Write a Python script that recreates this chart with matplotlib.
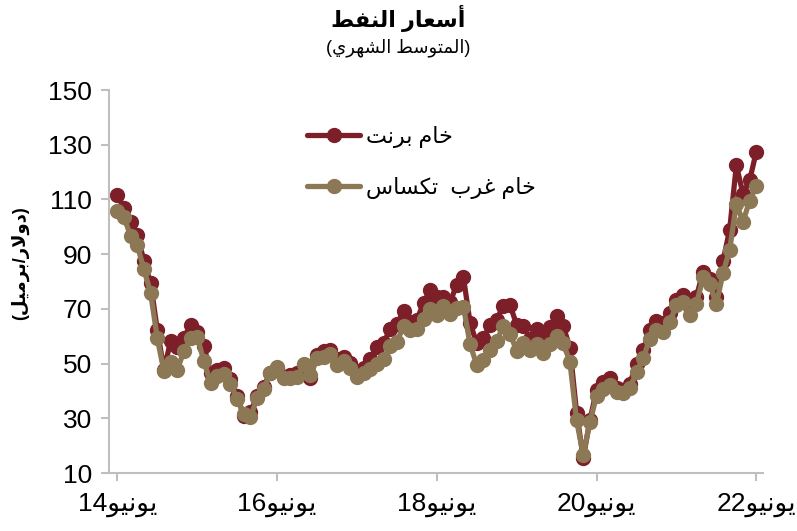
import numpy as np
import pandas as pd
import matplotlib
matplotlib.use("Agg")
import matplotlib.pyplot as plt

# ---------------- data ----------------
months = pd.period_range("2014-06", "2022-06", freq="M").strftime("%Y-%m").tolist()

brent = [111.8, 106.8, 101.6, 97.1, 87.4, 79.4, 62.3,
         47.8, 58.1, 55.9, 59.5, 64.1, 61.5, 56.6, 46.5, 47.6, 48.4, 44.3, 38.0,
         30.7, 32.2, 38.2, 41.6, 46.7, 48.3, 45.0, 45.8, 46.6, 49.5, 44.7, 53.3,
         54.6, 54.9, 51.6, 52.3, 50.3, 46.4, 48.5, 51.7, 56.2, 57.5, 62.7, 64.4,
         69.1, 65.3, 66.0, 72.1, 77.0, 74.4, 74.3, 72.5, 78.9, 81.5, 64.8, 57.4,
         59.4, 64.0, 66.1, 71.2, 71.3, 64.2, 63.9, 59.0, 62.8, 59.7, 63.2, 67.3,
         63.7, 55.7, 32.0, 15.5, 29.4, 40.3, 43.2, 44.7, 40.9, 40.2, 42.7, 50.0,
         54.8, 62.3, 65.4, 64.8, 68.5, 73.2, 75.2, 70.8, 74.5, 83.5, 81.1, 74.2,
         87.5, 99.0, 122.5, 112.0, 117.0, 127.5]

wti = [105.8, 103.6, 96.5, 93.2, 84.4, 75.8, 59.3,
       47.2, 50.6, 47.8, 54.5, 59.3, 59.8, 50.9, 42.9, 45.5, 46.2, 42.4, 37.2,
       31.7, 30.3, 37.6, 40.8, 46.7, 48.8, 44.7, 44.7, 45.2, 49.8, 45.7, 52.0,
       52.5, 53.5, 49.3, 51.1, 48.5, 45.2, 46.6, 48.0, 49.8, 51.6, 56.6, 57.9,
       63.7, 62.2, 62.7, 66.3, 70.0, 67.9, 71.0, 68.1, 70.2, 70.8, 57.0, 49.5,
       51.4, 55.0, 58.2, 63.9, 60.8, 54.7, 57.4, 54.8, 57.0, 54.0, 57.0, 59.9,
       57.5, 50.5, 29.2, 16.6, 28.6, 38.3, 40.7, 42.3, 39.6, 39.4, 40.9, 47.0,
       52.0, 59.0, 62.3, 61.7, 65.2, 71.4, 72.5, 67.7, 71.7, 81.5, 79.2, 71.7,
       83.2, 91.6, 108.5, 101.8, 109.6, 114.8]

tick_years = ["14", "16", "18", "20", "22"]
tick_month_word = "يونيو"
title_text = "أسعار النفط"
subtitle_text = "(المتوسط الشهري)"
ylabel_text = "(دولار/برميل)"
series_names = ["خام برنت", "خام غرب  تكساس"]

# ---------------- minimal Arabic shaping (presentation forms, visual order) ----------------
FORMS = {
    'ا': (0xFE8D, 0xFE8E, None, None), 'أ': (0xFE83, 0xFE84, None, None),
    'ب': (0xFE8F, 0xFE90, 0xFE91, 0xFE92), 'ت': (0xFE95, 0xFE96, 0xFE97, 0xFE98),
    'خ': (0xFEA5, 0xFEA6, 0xFEA7, 0xFEA8), 'د': (0xFEA9, 0xFEAA, None, None),
    'ر': (0xFEAD, 0xFEAE, None, None), 'س': (0xFEB1, 0xFEB2, 0xFEB3, 0xFEB4),
    'ش': (0xFEB5, 0xFEB6, 0xFEB7, 0xFEB8), 'ط': (0xFEC1, 0xFEC2, 0xFEC3, 0xFEC4),
    'ع': (0xFEC9, 0xFECA, 0xFECB, 0xFECC), 'غ': (0xFECD, 0xFECE, 0xFECF, 0xFED0),
    'ف': (0xFED1, 0xFED2, 0xFED3, 0xFED4), 'ك': (0xFED9, 0xFEDA, 0xFEDB, 0xFEDC),
    'ل': (0xFEDD, 0xFEDE, 0xFEDF, 0xFEE0), 'م': (0xFEE1, 0xFEE2, 0xFEE3, 0xFEE4),
    'ن': (0xFEE5, 0xFEE6, 0xFEE7, 0xFEE8), 'ه': (0xFEE9, 0xFEEA, 0xFEEB, 0xFEEC),
    'و': (0xFEED, 0xFEEE, None, None), 'ي': (0xFEF1, 0xFEF2, 0xFEF3, 0xFEF4),
}
LIGF = {'ا': (0xFEFB, 0xFEFC), 'أ': (0xFEF7, 0xFEF8)}


def shape(s):
    chars, i = [], 0
    while i < len(s):
        if s[i] == 'ل' and i + 1 < len(s) and s[i + 1] in LIGF:
            chars.append(('LIG', s[i + 1]))
            i += 2
        else:
            chars.append(s[i])
            i += 1

    def is_ar(c):
        return isinstance(c, tuple) or c in FORMS

    def joins_left(c):
        return (not isinstance(c, tuple)) and c in FORMS and FORMS[c][2] is not None

    out = []
    for k, c in enumerate(chars):
        prev = chars[k - 1] if k > 0 else None
        nxt = chars[k + 1] if k + 1 < len(chars) else None
        jp = prev is not None and joins_left(prev)
        if isinstance(c, tuple):
            iso, fin = LIGF[c[1]]
            out.append(chr(fin if jp else iso))
            continue
        if c not in FORMS:
            out.append(c)
            continue
        iso, fin, ini, med = FORMS[c]
        jn = ini is not None and nxt is not None and is_ar(nxt)
        if jp and jn:
            out.append(chr(med))
        elif jp:
            out.append(chr(fin))
        elif jn:
            out.append(chr(ini))
        else:
            out.append(chr(iso))
    return ''.join(out)


def rtl(s):
    v = shape(s)[::-1]
    return v.translate(str.maketrans({'(': ')', ')': '('}))


# ---------------- plot ----------------
plt.rcParams['font.family'] = ['Liberation Sans', 'DejaVu Sans']

RED = '#7D1F29'
TAN = '#8C7855'
GREY = '#BFBFBF'

fig = plt.figure(figsize=(7.97, 5.31), dpi=100)
ax = fig.add_axes([0.1368, 0.1092, 0.8205, 0.7213])

x = np.arange(len(months))
ax.plot(x, brent, color=RED, lw=3.8, marker='o', ms=10, label=rtl(series_names[0]),
        clip_on=False, solid_capstyle='round')
ax.plot(x, wti, color=TAN, lw=3.8, marker='o', ms=10, label=rtl(series_names[1]),
        clip_on=False, solid_capstyle='round')

ax.set_ylim(10, 150)
ax.set_yticks(np.arange(10, 151, 20))
ax.set_xlim(-1.25, 97.0)
tick_pos = [months.index("20" + y + "-06") for y in tick_years]
ax.set_xticks(tick_pos)
ax.set_xticklabels([y + rtl(tick_month_word) for y in tick_years])

for s in ['top', 'right']:
    ax.spines[s].set_visible(False)
for s in ['left', 'bottom']:
    ax.spines[s].set_color(GREY)
    ax.spines[s].set_linewidth(1.5)
ax.tick_params(axis='both', colors=GREY, width=1.5, length=6, labelcolor='black',
               labelsize=19)
ax.tick_params(axis='x', pad=8)
ax.tick_params(axis='y', pad=6)

fig.text(0.5, 0.966, rtl(title_text), ha='center', va='center', fontsize=16,
         fontweight='bold')
fig.text(0.5, 0.911, rtl(subtitle_text), ha='center', va='center', fontsize=13)
fig.text(0.025, 0.505, rtl(ylabel_text), ha='center', va='center', fontsize=13,
         fontweight='bold', rotation=90)

leg = ax.legend(loc='upper left', bbox_to_anchor=(0.36, 0.80),
                bbox_transform=fig.transFigure, frameon=False, fontsize=16,
                handlelength=2.4, handletextpad=0.25, labelspacing=1.3,
                markerscale=1.0)

fig.savefig('out.png', dpi=100)
